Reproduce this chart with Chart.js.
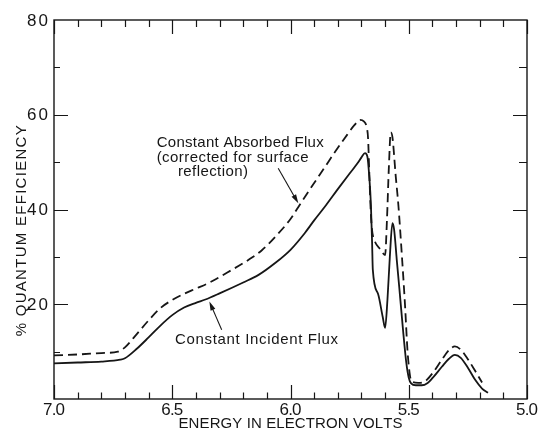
<!DOCTYPE html>
<html>
<head>
<meta charset="utf-8">
<script src="https://cdn.jsdelivr.net/npm/chart.js@4.4.0/dist/chart.umd.min.js"></script>
<style>
  html, body { margin: 0; padding: 0; background: #ffffff; }
  #wrap { width: 538px; height: 431px; }
</style>
</head>
<body>
<div id="wrap"><canvas id="c" width="538" height="431"></canvas></div>
<script>
// Photon energy (eV) and quantum efficiency (%) for constant incident flux
const incidentEnergy = [7.00, 6.90, 6.80, 6.72, 6.70, 6.65, 6.60, 6.55, 6.50, 6.45, 6.40, 6.36, 6.30, 6.20, 6.135, 6.065, 6.00, 5.94, 5.90, 5.85, 5.80, 5.75, 5.716, 5.70, 5.685, 5.675, 5.667, 5.66, 5.655, 5.652, 5.63, 5.61, 5.60, 5.59, 5.58, 5.569, 5.562, 5.55, 5.54, 5.525, 5.51, 5.50, 5.49, 5.47, 5.445, 5.42, 5.40, 5.36, 5.33, 5.305, 5.28, 5.25, 5.22, 5.19, 5.165];
const incidentQE     = [7.5, 7.7, 7.9, 8.3, 8.6, 10.6, 13.0, 15.5, 17.7, 19.3, 20.3, 21.0, 22.3, 24.6, 26.2, 28.7, 31.5, 35.0, 37.7, 40.9, 44.3, 47.6, 49.8, 51.0, 51.9, 51.2, 47.0, 41.0, 33.0, 27.3, 22.2, 17.3, 15.0, 21.0, 30.0, 37.1, 35.8, 29.0, 23.5, 15.0, 7.5, 4.5, 3.3, 2.9, 2.9, 3.4, 4.4, 6.8, 8.5, 9.3, 8.7, 6.6, 4.1, 2.2, 1.3];

// Constant absorbed flux (corrected for surface reflection)
const absorbedEnergy = [7.00, 6.90, 6.80, 6.73, 6.70, 6.65, 6.60, 6.55, 6.50, 6.45, 6.40, 6.346, 6.25, 6.18, 6.121, 6.065, 6.00, 5.966, 5.90, 5.854, 5.81, 5.76, 5.73, 5.706, 5.69, 5.678, 5.672, 5.667, 5.662, 5.656, 5.645, 5.62, 5.60, 5.592, 5.584, 5.576, 5.569, 5.555, 5.544, 5.53, 5.516, 5.505, 5.495, 5.488, 5.46, 5.432, 5.40, 5.36, 5.33, 5.305, 5.28, 5.25, 5.22, 5.207, 5.19];
const absorbedQE     = [9.2, 9.4, 9.7, 10.0, 10.9, 13.7, 16.6, 19.2, 20.9, 22.2, 23.3, 24.5, 27.2, 29.3, 31.4, 34.2, 38.0, 40.6, 45.6, 49.0, 52.3, 55.8, 57.8, 58.9, 58.6, 57.4, 55.0, 48.0, 41.0, 36.0, 33.5, 31.6, 30.4, 38.0, 49.0, 56.3, 55.3, 47.0, 41.0, 31.0, 20.0, 10.0, 5.0, 3.7, 3.4, 3.7, 5.4, 8.3, 10.3, 11.1, 10.4, 8.4, 6.0, 4.9, 3.5];

// Axis labels
const energyTickLabels = ['7.0', '6.5', '6.0', '5.5', '5.0'];
const qeTickLabels = ['20', '40', '60', '80'];

const INK = '#161616';
const LABEL_FONT = '"Liberation Sans", Arial, sans-serif';

const toPoints = (xs, ys) => xs.map((x, i) => ({ x, y: ys[i] }));

// Text drawn letter by letter so it spans a set width
function spacedText(ctx, text, x, y, width, align) {
  const widths = [...text].map(ch => ctx.measureText(ch).width);
  const natural = widths.reduce((a, b) => a + b, 0);
  const gap = text.length > 1 ? (width - natural) / (text.length - 1) : 0;
  let cx = align === 'center' ? x - width / 2 : x;
  ctx.textAlign = 'left';
  [...text].forEach((ch, i) => {
    ctx.fillText(ch, cx, y);
    cx += widths[i] + gap;
  });
}

function arrow(ctx, x1, y1, x2, y2) {
  const ang = Math.atan2(y2 - y1, x2 - x1);
  const len = 9, half = 2.6;
  ctx.beginPath();
  ctx.moveTo(x1, y1);
  ctx.lineTo(x2 - Math.cos(ang) * len * 0.6, y2 - Math.sin(ang) * len * 0.6);
  ctx.stroke();
  ctx.beginPath();
  ctx.moveTo(x2, y2);
  ctx.lineTo(x2 - Math.cos(ang) * len - Math.sin(ang) * half, y2 - Math.sin(ang) * len + Math.cos(ang) * half);
  ctx.lineTo(x2 - Math.cos(ang) * len + Math.sin(ang) * half, y2 - Math.sin(ang) * len - Math.cos(ang) * half);
  ctx.closePath();
  ctx.fill();
}

// Annotation text and pointers, placed in data coordinates (eV, %)
const notes = {
  absorbed: {
    lines: [
      { text: 'Constant Absorbed Flux', e: 6.566, q: 54.1, w: 167 },
      { text: '(corrected for surface', e: 6.566, q: 50.9, w: 152 },
      { text: 'reflection)', e: 6.476, q: 47.9, w: 70 }
    ],
    from: [6.052, 48.7], to: [5.967, 41.3]
  },
  incident: {
    lines: [ { text: 'Constant Incident Flux', e: 6.488, q: 12.4, w: 163 } ],
    from: [6.291, 14.6], to: [6.343, 20.6]
  }
};

const framePlugin = {
  id: 'frame',
  afterDatasetsDraw(chart) {
    const { ctx, chartArea: a, scales: { x, y } } = chart;
    ctx.save();
    ctx.strokeStyle = INK;
    ctx.fillStyle = INK;
    ctx.lineWidth = 1.4;
    ctx.setLineDash([]);
    ctx.strokeRect(a.left, a.top, a.right - a.left, a.bottom - a.top);

    // inward tick marks every 0.1 eV, longer at each 0.5 eV
    ctx.lineWidth = 1.2;
    for (let k = 0; k <= 20; k++) {
      const e = 5 + k * 0.1;
      const px = Math.round(x.getPixelForValue(e)) + 0.5;
      const major = k % 5 === 0;
      const bl = major ? 14 : 6.5;
      const tl = major ? 14 : 7;
      ctx.beginPath();
      ctx.moveTo(px, a.bottom); ctx.lineTo(px, a.bottom - bl);
      ctx.moveTo(px, a.top); ctx.lineTo(px, a.top + tl);
      ctx.stroke();
    }
    // inward tick marks every 10 %, longer at each 20 %
    for (let v = 10; v < 80; v += 10) {
      const py = Math.round(y.getPixelForValue(v)) + 0.5;
      const major = v % 20 === 0;
      ctx.beginPath();
      ctx.moveTo(a.left, py); ctx.lineTo(a.left + (major ? 14 : 6), py);
      ctx.moveTo(a.right, py); ctx.lineTo(a.right - (major ? 14 : 8), py);
      ctx.stroke();
    }

    // tick labels
    ctx.font = '17px ' + LABEL_FONT;
    ctx.textBaseline = 'middle';
    qeTickLabels.forEach(t => {
      spacedText(ctx, t, 27, y.getPixelForValue(parseFloat(t)) + 1, 21, 'left');
    });
    energyTickLabels.forEach(t => {
      spacedText(ctx, t, x.getPixelForValue(parseFloat(t)), a.bottom + 11, 22, 'center');
    });

    // axis titles
    ctx.font = '15px ' + LABEL_FONT;
    spacedText(ctx, 'ENERGY IN ELECTRON VOLTS', (a.left + a.right) / 2, a.bottom + 25, 224, 'center');
    ctx.save();
    ctx.translate(22, y.getPixelForValue(35.5));
    ctx.rotate(-Math.PI / 2);
    spacedText(ctx, '% QUANTUM EFFICIENCY', 0, 0, 211, 'center');
    ctx.restore();

    // annotations
    ctx.font = '15px ' + LABEL_FONT;
    ctx.lineWidth = 1.1;
    Object.values(notes).forEach(n => {
      n.lines.forEach(l => spacedText(ctx, l.text, x.getPixelForValue(l.e), y.getPixelForValue(l.q), l.w, 'left'));
      arrow(ctx, x.getPixelForValue(n.from[0]), y.getPixelForValue(n.from[1]),
                 x.getPixelForValue(n.to[0]), y.getPixelForValue(n.to[1]));
    });
    ctx.restore();
  }
};

new Chart(document.getElementById('c'), {
  type: 'line',
  data: {
    datasets: [
      {
        label: 'Constant Absorbed Flux',
        data: toPoints(absorbedEnergy, absorbedQE),
        borderColor: INK,
        borderWidth: 1.8,
        borderDash: [9, 5],
        pointRadius: 0,
        fill: false,
        cubicInterpolationMode: 'monotone'
      },
      {
        label: 'Constant Incident Flux',
        data: toPoints(incidentEnergy, incidentQE),
        borderColor: INK,
        borderWidth: 1.8,
        pointRadius: 0,
        fill: false,
        cubicInterpolationMode: 'monotone'
      }
    ]
  },
  options: {
    responsive: false,
    animation: false,
    devicePixelRatio: 1,
    layout: { padding: { left: 54, right: 11, top: 20, bottom: 32 } },
    plugins: { legend: { display: false }, tooltip: { enabled: false } },
    scales: {
      x: { type: 'linear', min: 5, max: 7, reverse: true, display: false },
      y: { type: 'linear', min: 0, max: 80, display: false }
    }
  },
  plugins: [framePlugin]
});
</script>
</body>
</html>
